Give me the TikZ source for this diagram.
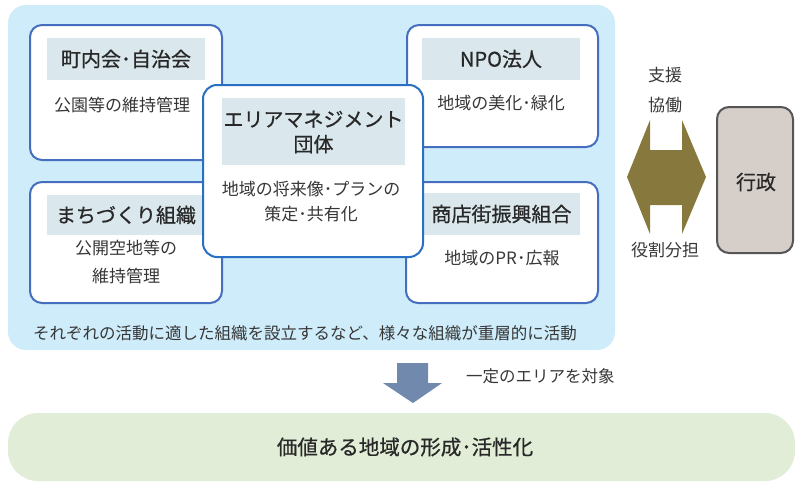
\documentclass[tikz,border=0pt]{standalone}
\usepackage{fontspec}
\setmainfont{Noto Sans CJK JP}
\newfontfamily\midfont[FakeBold=0.7]{Noto Sans CJK JP}
\usetikzlibrary{positioning}
\definecolor{outerblue}{RGB}{206,236,250}
\definecolor{boxline}{RGB}{70,110,190}
\definecolor{centerline}{RGB}{40,112,195}
\definecolor{headfill}{RGB}{218,232,238}
\definecolor{txt}{RGB}{40,40,40}
\definecolor{bodytxt}{RGB}{55,55,55}
\definecolor{arrowblue}{RGB}{112,137,172}
\definecolor{greenfill}{RGB}{225,237,214}
\definecolor{govfill}{RGB}{214,206,201}
\definecolor{govline}{RGB}{85,85,85}
\definecolor{olive}{RGB}{135,121,62}
\tikzset{
  orgbox/.style={draw=boxline, line width=2pt, fill=white, rounded corners=12pt, inner sep=0pt},
  ctrbox/.style={draw=centerline, line width=2pt, fill=white, rounded corners=14pt, inner sep=0pt},
  headband/.style={fill=headfill, inner sep=0pt},
  ttl/.style={font=\midfont\fontsize{20}{24}\selectfont, text=txt, inner sep=0pt, align=center},
  body/.style={font=\fontsize{17}{28}\selectfont, text=bodytxt, inner sep=0pt, align=center},
  capt/.style={font=\fontsize{16.5}{20}\selectfont, text=bodytxt, inner sep=0pt, align=center},
}
\begin{document}
\begin{tikzpicture}[x=1pt,y=-1pt]
\useasboundingbox (0,0) rectangle (795,482);
% outer area
\node[fill=outerblue, rounded corners=18pt, minimum width=607pt, minimum height=345pt, inner sep=0pt] (outer) at (311.5,177.5) {};
% 町内会
\node[orgbox, minimum width=192pt, minimum height=135pt] (b1) at (126,92.5) {};
\node[headband, minimum width=158pt, minimum height=42pt] (h1) at (126,59) {};
\node[ttl] (t1) at (126,59) {町内会･自治会};
\node[body] (d1) at (122,105) {公園等の維持管理};
% NPO
\node[orgbox, minimum width=191pt, minimum height=122pt] (b2) at (502.5,86) {};
\node[headband, minimum width=158pt, minimum height=42pt] (h2) at (501,59) {};
\node[ttl] (t2) at (501,59) {NPO法人};
\node[body] (d2) at (501,103) {地域の美化･緑化};
% まちづくり
\node[orgbox, minimum width=192pt, minimum height=121pt] (b3) at (126,242.5) {};
\node[headband, minimum width=158pt, minimum height=40pt] (h3) at (126,215) {};
\node[ttl] (t3) at (126,215) {まちづくり組織};
\node[body] (d3) at (126,262.5) {公開空地等の\\維持管理};
% 商店街
\node[orgbox, minimum width=192pt, minimum height=121pt] (b4) at (502,242.5) {};
\node[headband, minimum width=157pt, minimum height=42pt] (h4) at (501.5,214) {};
\node[ttl] (t4) at (501.5,214) {商店街振興組合};
\node[body] (d4) at (502,258) {地域のPR･広報};
% center
\node[ctrbox, minimum width=220pt, minimum height=172pt] (b0) at (313,171) {};
\node[headband, minimum width=183pt, minimum height=67pt] (h0) at (313.5,131.5) {};
\node[ttl, font=\midfont\fontsize{20}{25}\selectfont] (t0) at (313.5,132) {エリアマネジメント\\団体};
\node[body, font=\fontsize{17}{25}\selectfont] (d0) at (311,202) {地域の将来像･プランの\\策定･共有化};
% caption in outer area
\node[capt] (cap) at (305,333) {それぞれの活動に適した組織を設立するなど、様々な組織が重層的に活動};
% double arrow
\fill[olive] (627,177) -- (650,120) -- (650,150) -- (682,150) -- (682,120) -- (706,177)
  -- (682,234) -- (682,205) -- (650,205) -- (650,234) -- cycle;
\node[body] (s1) at (665,75) {支援};
\node[body] (s2) at (665,105) {協働};
\node[body] (s3) at (665,250) {役割分担};
% 行政
\node[draw=govline, line width=2pt, fill=govfill, rounded corners=12pt, minimum width=76pt, minimum height=146pt, inner sep=0pt] (gov) at (755,180) {};
\node[ttl] (govt) at (756,182) {行政};
% down arrow
\fill[arrowblue] (397,363) -- (428,363) -- (428,383) -- (442,383) -- (413,403) -- (383,383) -- (397,383) -- cycle;
\node[capt, anchor=west] (area) at (466,376) {一定のエリアを対象};
% result
\node[fill=greenfill, rounded corners=30pt, minimum width=787pt, minimum height=68pt, inner sep=0pt] (res) at (401.5,447) {};
\node[ttl, font=\midfont\fontsize{20.5}{24}\selectfont] (rest) at (405,447) {価値ある地域の形成･活性化};
\end{tikzpicture}
\end{document}
